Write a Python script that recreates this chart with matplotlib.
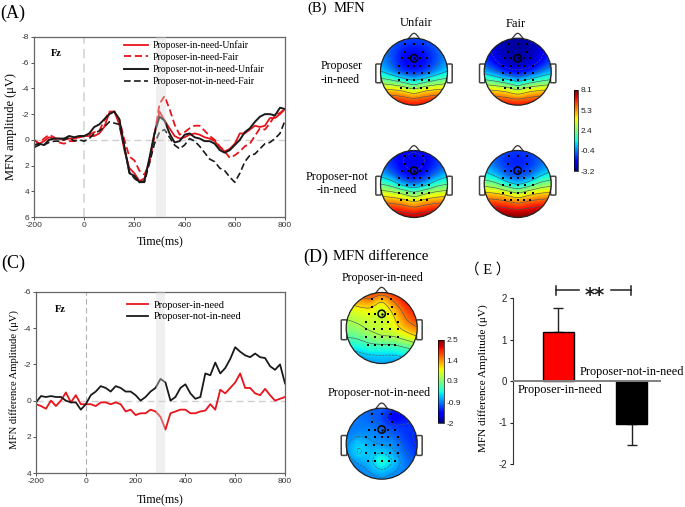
import numpy as np
import matplotlib
matplotlib.use('Agg')
import matplotlib.pyplot as plt
from matplotlib.cm import ScalarMappable
from matplotlib.colors import Normalize
from matplotlib.patches import Circle, FancyBboxPatch

plt.rcParams['axes.unicode_minus'] = False

W, H = 685, 507
SERIF = 'Liberation Serif'
SANS = 'Liberation Sans'

# time axis shared by the waveforms, every 20 ms
times = list(range(-200, 801, 20))

# panel A, amplitude in uV
in_need_unfair = [0.0, 0.3, 0.1, -0.2, -0.1, -0.1, 0.0, -0.1, -0.1, -0.2,
                  -0.3, -0.3, -0.3, -0.5, -1.0, -2.1, -2.2, -1.2, 0.8, 2.2,
                  2.6, 3.2, 3.0, 1.6, -0.5, -2.2, -1.5, -0.9, -0.3, -0.1,
                  -0.2, -0.4, -0.5, -0.4, -0.2, -0.1, 0.1, 0.6, 0.9, 0.7,
                  0.3, -0.5, -0.5, -0.8, -1.1, -1.0, -1.1, -1.7, -1.7, -2.0, -2.4]
in_need_fair = [0.0, 0.3, -0.1, -0.4, -0.2, 0.2, 0.3, 0.1, 0.1, -0.2,
                -0.3, -0.4, -0.6, -0.7, -1.5, -2.2, -2.2, -1.6, 0.0, 1.3,
                1.6, 2.4, 2.7, 1.8, -0.3, -2.8, -3.4, -2.4, -1.2, -0.4,
                -0.6, -0.9, -1.1, -1.1, -0.7, -0.3, 0.0, 0.5, 0.9, 1.4,
                1.2, 0.9, 0.5, 0.3, -0.3, -0.9, -0.8, -1.3, -1.9, -2.1, -2.4]
not_in_need_unfair = [0.4, 0.3, 0.4, 0.0, -0.1, -0.1, -0.1, -0.3, -0.2, -0.3,
                      -0.3, -0.5, -1.0, -1.2, -1.6, -2.0, -2.2, -1.6, 0.5, 2.6,
                      2.8, 3.3, 3.2, 1.4, -0.5, -1.8, -1.5, -0.5, 0.2, 0.1,
                      -0.4, -0.5, -0.2, -0.1, 0.1, 0.1, 0.3, 0.8, 1.0, 0.8,
                      0.4, 0.0, -0.6, -0.9, -1.4, -1.8, -2.0, -2.0, -1.9, -2.5, -2.4]
not_in_need_fair = [0.6, 0.4, 0.4, 0.2, 0.1, 0.1, 0.0, -0.2, 0.1, 0.0,
                    0.1, -0.1, -0.5, -0.7, -1.0, -1.4, -1.3, -1.2, 0.6, 2.5,
                    3.0, 3.3, 3.3, 1.8, 0.3, -0.6, -0.8, -0.2, 0.4, 0.7,
                    0.4, -0.1, 0.1, 0.5, 1.0, 1.5, 1.7, 2.2, 2.4, 2.9,
                    3.3, 2.6, 1.7, 1.2, 1.1, 0.7, 0.3, 0.2, -0.1, -0.5, -1.5]

# panel C, difference amplitude in uV
diff_in_need = [0.2, 0.3, 0.45, 0.0, 0.3, 0.0, -0.45, 0.1, -0.3, 0.2,
                0.2, 0.2, 0.3, 0.1, 0.1, 0.2, 0.1, 0.2, 0.6, 0.5,
                0.8, 0.7, 0.7, 0.5, 0.6, 0.9, 1.6, 0.7, 0.6, 0.5,
                0.5, 0.7, 0.7, 0.6, 0.55, 0.2, 0.5, -0.6, -0.4, -0.7,
                -1.0, -1.5, -0.7, -0.7, -0.4, -0.3, -0.65, -0.3, 0.0, -0.1, -0.2]
diff_not_in_need = [0.1, -0.25, -0.2, -0.25, -0.2, -0.2, 0.0, 0.1, 0.1, 0.5,
                    0.2, -0.3, -0.5, -0.8, -0.7, -0.5, -0.8, -0.7, -0.5, -0.5,
                    -0.3, 0.0, -0.2, -0.5, -0.7, -1.2, -1.0, 0.0, -0.2, -0.7,
                    -0.9, -0.4, -0.1, -0.2, -1.5, -1.4, -2.1, -1.5, -1.8, -2.3,
                    -2.95, -2.7, -2.5, -2.4, -2.6, -2.4, -2.35, -1.9, -1.7, -2.0, -0.95]

# panel E
bar_labels = ['Proposer-in-need', 'Proposer-not-in-need']
bar_values = [1.18, -1.03]
bar_errors = [0.59, 0.52]

# scalp maps: rows run front to back, columns left to right
map_unfair_in_need = [[-0.3, -0.7, -0.9, -1.0, -0.9, -0.7, -0.3],
                      [-0.3, -0.8, -1.3, -1.5, -1.3, -0.8, -0.3],
                      [-0.2, -0.9, -1.7, -1.9, -1.7, -1.0, -0.2],
                      [0.0, -0.8, -1.7, -2.0, -1.7, -0.9, 0.0],
                      [0.6, -0.2, -1.2, -1.5, -1.2, -0.2, 0.6],
                      [2.2, 1.8, 1.1, 0.3, 1.1, 1.8, 2.2],
                      [4.3, 4.1, 3.8, 2.8, 3.8, 4.1, 4.3],
                      [6.1, 6.0, 5.7, 5.2, 5.7, 6.0, 6.1],
                      [7.4, 7.4, 7.2, 7.0, 7.2, 7.4, 7.4]]
map_fair_in_need = [[-1.9, -2.4, -2.7, -2.8, -2.7, -2.4, -1.9],
                    [-1.7, -2.4, -2.8, -2.9, -2.8, -2.4, -1.7],
                    [-1.3, -2.2, -2.7, -2.8, -2.7, -2.2, -1.3],
                    [-0.9, -1.8, -2.5, -2.6, -2.5, -1.8, -0.9],
                    [0.2, -0.6, -1.6, -1.9, -1.6, -0.6, 0.2],
                    [1.9, 1.5, 0.8, 0.0, 0.8, 1.5, 1.9],
                    [4.1, 3.9, 3.6, 2.6, 3.6, 3.9, 4.1],
                    [6.0, 5.8, 5.5, 5.0, 5.5, 5.8, 6.0],
                    [7.3, 7.3, 7.1, 7.0, 7.1, 7.3, 7.3]]
map_unfair_not_in_need = [[-0.8, -1.3, -1.7, -1.9, -1.7, -1.3, -0.8],
                          [-0.7, -1.4, -2.0, -2.2, -2.0, -1.4, -0.7],
                          [-0.4, -1.2, -1.9, -2.1, -1.9, -1.2, -0.4],
                          [0.4, -0.4, -1.5, -1.9, -1.5, -0.4, 0.4],
                          [1.8, 1.3, 0.0, -0.7, 0.0, 1.3, 1.8],
                          [3.5, 3.3, 2.7, 1.8, 2.7, 3.3, 3.5],
                          [5.3, 5.1, 4.8, 4.0, 4.8, 5.1, 5.3],
                          [6.8, 6.7, 6.4, 6.0, 6.4, 6.7, 6.8],
                          [7.8, 7.8, 7.7, 7.6, 7.7, 7.8, 7.8]]
map_fair_not_in_need = [[-0.3, -0.7, -1.0, -1.1, -1.0, -0.7, -0.3],
                        [-0.2, -0.8, -1.3, -1.5, -1.3, -0.8, -0.2],
                        [0.2, -0.5, -1.2, -1.4, -1.2, -0.5, 0.2],
                        [1.1, 0.4, -0.7, -1.1, -0.7, 0.4, 1.1],
                        [2.6, 2.2, 1.0, 0.2, 1.0, 2.2, 2.6],
                        [4.4, 4.2, 3.7, 2.8, 3.7, 4.2, 4.4],
                        [6.0, 5.9, 5.6, 5.0, 5.6, 5.9, 6.0],
                        [7.3, 7.3, 7.1, 6.8, 7.1, 7.3, 7.3],
                        [8.1, 8.1, 8.1, 8.1, 8.1, 8.1, 8.1]]
map_diff_in_need = [[1.3, 1.6, 1.9, 1.7, 1.9, 2.1, 2.3],
                    [1.0, 1.3, 1.4, 0.9, 1.5, 2.0, 2.2],
                    [0.7, 0.8, 0.9, 0.6, 1.1, 1.7, 2.0],
                    [0.5, 0.6, 0.7, 0.6, 0.9, 1.5, 1.8],
                    [0.3, 0.4, 0.6, 0.7, 0.8, 1.2, 1.5],
                    [0.0, 0.1, 0.3, 0.5, 0.5, 0.7, 1.0],
                    [-0.3, -0.3, -0.1, -0.1, -0.1, 0.1, 0.3],
                    [-0.7, -0.6, -0.5, -0.5, -0.5, -0.4, -0.3],
                    [-0.9, -0.9, -0.8, -0.7, -0.8, -0.8, -0.8]]
map_diff_not_in_need = [[-0.9, -0.9, -1.0, -1.0, -1.2, -1.3, -1.2],
                        [-0.9, -0.9, -1.0, -1.1, -1.6, -1.4, -1.2],
                        [-0.9, -0.9, -0.9, -1.0, -1.2, -1.2, -1.2],
                        [-0.9, -0.8, -0.8, -0.9, -1.0, -1.2, -1.3],
                        [-0.8, -0.5, -0.7, -0.8, -0.8, -1.1, -1.3],
                        [-0.8, -0.4, -0.6, -0.5, -0.7, -1.0, -1.2],
                        [-0.9, -0.7, -0.6, -0.1, -0.5, -0.9, -1.1],
                        [-0.9, -0.9, -0.7, -0.5, -0.7, -0.9, -1.0],
                        [-0.9, -0.9, -0.9, -0.8, -0.9, -0.9, -0.9]]

# electrode sites on the unit head
electrode_x = [-0.27, 0, 0.27, -0.28, 0.28,
               -0.37, -0.19, 0.19, 0.38, -0.44, -0.19, 0, 0.19, 0.45,
               -0.45, -0.22, 0, 0.23, 0.46, -0.44, -0.2, 0, 0.23, 0.46,
               -0.38, -0.2, 0, 0.2, 0.38]
electrode_y = [0.83, 0.83, 0.83, 0.6, 0.6,
               0.4, 0.4, 0.4, 0.4, 0.18, 0.18, 0.18, 0.18, 0.18,
               -0.03, -0.03, -0.03, -0.03, -0.03, -0.26, -0.26, -0.26, -0.26, -0.26,
               -0.48, -0.48, -0.48, -0.48, -0.48]

colorbar_b_ticks = [-3.2, -0.4, 2.4, 5.3, 8.1]
colorbar_d_ticks = [-2, -0.9, 0.3, 1.4, 2.5]

fig = plt.figure(figsize=(W / 100, H / 100), dpi=100)


def axes_px(x0, y0, x1, y1):
    return fig.add_axes([x0 / W, 1 - y1 / H, (x1 - x0) / W, (y1 - y0) / H])


def text_px(x, y, s, size=9, family=SERIF, ha='center', va='center', **kw):
    fig.text(x / W, 1 - y / H, s, fontsize=size, family=family, ha=ha, va=va, **kw)


def setup_wave_axes(ax, ylim, yticks, vline_width, vline_color):
    ax.set_xlim(-200, 800)
    ax.set_ylim(*ylim)
    ax.set_xticks([-200, 0, 200, 400, 600, 800])
    ax.set_yticks(yticks)
    ax.tick_params(labelsize=6, length=2, width=0.6, pad=1.5, colors='#333333')
    for label in ax.get_xticklabels() + ax.get_yticklabels():
        label.set_family(SANS)
    for spine in ax.spines.values():
        spine.set_color('#666666')
        spine.set_linewidth(0.9)
    ax.axhline(0, color='#d0d0d0', lw=1.0, ls=(0, (5, 3)), zorder=1)
    ax.axvline(0, color=vline_color, lw=vline_width, ls=(0, (5, 3)), zorder=1)


def upsample(grid, n=161):
    grid = np.array(grid, dtype=float)
    rows = np.linspace(0, grid.shape[0] - 1, n)
    cols = np.linspace(0, grid.shape[1] - 1, n)
    tall = np.array([np.interp(rows, np.arange(grid.shape[0]), grid[:, j])
                     for j in range(grid.shape[1])]).T
    fine = np.array([np.interp(cols, np.arange(grid.shape[1]), tall[i])
                     for i in range(n)])
    # box blur to take the corners off the bilinear grid
    size = 15
    kernel = np.ones(size) / size
    for _ in range(2):
        padded = np.pad(fine, size, mode='edge')
        padded = np.apply_along_axis(lambda v: np.convolve(v, kernel, mode='same'), 0, padded)
        padded = np.apply_along_axis(lambda v: np.convolve(v, kernel, mode='same'), 1, padded)
        fine = padded[size:-size, size:-size]
    return fine


def draw_head(cx, cy, r, grid, vmin, vmax, n_levels=8):
    pad = 1.35
    ax = axes_px(cx - pad * r, cy - pad * r, cx + pad * r, cy + pad * r)
    ax.set_xlim(-pad, pad)
    ax.set_ylim(-pad, pad)
    ax.axis('off')

    # ears and nose sit behind the scalp
    for side in (-1, 1):
        ax.add_patch(FancyBboxPatch((side * 1.06 - 0.05, -0.3), 0.1, 0.5,
                                    boxstyle='round,pad=0.03', fc='white', ec='#444444', lw=1.1))
    nose_x = np.array([-0.17, -0.06, 0.0, 0.06, 0.17])
    nose_y = np.array([0.985, 1.12, 1.15, 1.12, 0.985])
    ax.plot(nose_x, nose_y, color='#333333', lw=0.9)

    fine = upsample(grid)
    xs = np.linspace(-1, 1, fine.shape[1])
    ys = np.linspace(1, -1, fine.shape[0])
    clip = Circle((0, 0), 1, transform=ax.transData)
    im = ax.imshow(fine, extent=(-1, 1, -1, 1), cmap='jet', vmin=vmin, vmax=vmax,
                   interpolation='bilinear', zorder=2)
    im.set_clip_path(clip)
    levels = np.linspace(vmin, vmax, n_levels + 2)[1:-1]
    cs = ax.contour(xs, ys, fine, levels=levels, colors='#4a5a5a', linewidths=0.45, zorder=3)
    cs.set_clip_path(clip)
    ax.set_xlim(-pad, pad)
    ax.set_ylim(-pad, pad)

    ax.add_patch(Circle((0, 0), 1, fc='none', ec='#222222', lw=0.9, zorder=4))
    ax.scatter(electrode_x, electrode_y, s=1.6, c='black', marker='s', linewidths=0, zorder=5)
    # Fz marker
    ax.scatter([0], [0.4], s=28, facecolors='none', edgecolors='black', linewidths=1.1, zorder=6)
    ax.scatter([0], [0.4], s=3, c='black', linewidths=0, zorder=6)


def draw_colorbar(x0, y0, x1, y1, ticks):
    cax = axes_px(x0, y0, x1, y1)
    sm = ScalarMappable(norm=Normalize(ticks[0], ticks[-1]), cmap='jet')
    cb = fig.colorbar(sm, cax=cax, ticks=ticks)
    cb.ax.set_yticklabels([str(t) for t in ticks], family=SANS, fontsize=6, color='#222222')
    cb.ax.tick_params(length=0, pad=2)
    cb.outline.set_linewidth(0.5)


# ---- panel A ----
ax_a = axes_px(34, 37, 285, 217)
setup_wave_axes(ax_a, (6, -8), [-8, -6, -4, -2, 0, 2, 4, 6], 1.3, '#d8d8d8')
ax_a.plot(times, in_need_unfair, color='#e8141c', lw=1.3, label='Proposer-in-need-Unfair')
ax_a.plot(times, in_need_fair, color='#e8141c', lw=1.3, ls=(0, (4, 2)), label='Proposer-in-need-Fair')
ax_a.plot(times, not_in_need_unfair, color='#1a1a1a', lw=1.4, label='Proposer-not-in-need-Unfair')
ax_a.plot(times, not_in_need_fair, color='#1a1a1a', lw=1.2, ls=(0, (4, 2)), label='Proposer-not-in-need-Fair')
ax_a.axvspan(286, 325, color='#d8d8d8', alpha=0.38, lw=0, zorder=5)
ax_a.legend(loc='upper left', bbox_to_anchor=((121 - 34) / 251, 1.0), frameon=False, ncol=1,
            prop={'family': SERIF, 'size': 7}, handlelength=2.4, handletextpad=0.5,
            labelspacing=0.28, borderpad=0.35, borderaxespad=0)

# ---- panel C ----
ax_c = axes_px(36, 292, 285, 473)
setup_wave_axes(ax_c, (4, -6), [-6, -4, -2, 0, 2, 4], 0.8, '#b0b0b0')
ax_c.plot(times, diff_in_need, color='#e8141c', lw=1.3, label='Proposer-in-need')
ax_c.plot(times, diff_not_in_need, color='#1a1a1a', lw=1.3, label='Proposer-not-in-need')
ax_c.axvspan(280, 320, color='#d8d8d8', alpha=0.38, lw=0, zorder=5)
ax_c.legend(loc='upper left', bbox_to_anchor=((124 - 36) / 249, 0.97), frameon=False,
            prop={'family': SERIF, 'size': 7.5}, handlelength=2.0, handletextpad=0.55,
            labelspacing=0.22, borderpad=0.3, borderaxespad=0)

# ---- panels B and D ----
draw_head(414, 71.7, 33.5, map_unfair_in_need, -3.2, 8.1)
draw_head(517.7, 71.7, 33.5, map_fair_in_need, -3.2, 8.1)
draw_head(414, 184, 33.5, map_unfair_not_in_need, -3.2, 8.1)
draw_head(517.7, 184, 33.5, map_fair_not_in_need, -3.2, 8.1)
draw_colorbar(574, 90, 578, 171, colorbar_b_ticks)

draw_head(381.7, 328, 35.5, map_diff_in_need, -2, 2.5)
draw_head(381.7, 443.7, 35.5, map_diff_not_in_need, -2, 2.5, n_levels=17)
draw_colorbar(438, 340, 444, 423, colorbar_d_ticks)

# ---- panel E ----
ax_e = axes_px(513, 298, 661, 464)
ax_e.set_xlim(-0.623, 1.404)
ax_e.set_ylim(-2, 2)
ax_e.bar([0, 1], bar_values, width=0.42, color=['#ff0000', '#000000'], edgecolor='black', linewidth=1, zorder=2)
ax_e.errorbar([0], [bar_values[0]], yerr=[[0], [bar_errors[0]]], color='#222222', capsize=3.5, lw=1, capthick=1, zorder=1)
ax_e.errorbar([1], [bar_values[1]], yerr=[[bar_errors[1]], [0]], color='#222222', capsize=3.5, lw=1, capthick=1, zorder=1)
ax_e.axhline(0, color='#808080', lw=1.4, zorder=3)
ax_e.set_yticks([-2, -1, 0, 1, 2])
ax_e.set_xticks([])
ax_e.tick_params(labelsize=7, length=2.5, width=0.8, pad=2, colors='#222222')
for label in ax_e.get_yticklabels():
    label.set_family(SANS)
for name in ('top', 'right', 'bottom'):
    ax_e.spines[name].set_visible(False)
ax_e.spines['left'].set_color('#333333')
ax_e.patch.set_alpha(0)

# significance bracket
ax_e.plot([-0.035, 0.285], [2.19, 2.19], color='#222222', lw=1.1, clip_on=False)
ax_e.plot([0.72, 0.995], [2.19, 2.19], color='#222222', lw=1.1, clip_on=False)
ax_e.plot([-0.035, -0.035], [2.08, 2.30], color='#222222', lw=1.1, clip_on=False)
ax_e.plot([0.995, 0.995], [2.08, 2.30], color='#222222', lw=1.1, clip_on=False)
text_px(595, 295, '**', size=14, family='DejaVu Sans', weight='bold', color='#222222')
text_px(560.5, 390, bar_labels[0], size=8.8)
text_px(632, 372, bar_labels[1], size=8.8)

# ---- text ----
text_px(13, 13, '(A)', size=13)
text_px(56, 53, 'Fz', size=7.5, weight='bold')
text_px(160, 242, 'Time(ms)', size=8.6)
text_px(11, 127, 'MFN amplitude (μV)', size=9, rotation=90)
text_px(13, 263, '(C)', size=13)
text_px(60, 309, 'Fz', size=7.5, weight='bold')
text_px(160, 500, 'Time(ms)', size=8.6)
text_px(14, 380, 'MFN difference Amplitude (μV)', size=7.7, rotation=90)

text_px(307, 8, '(B)', size=10.5, ha='left')
text_px(334, 9, 'MFN', size=10.5, ha='left')
text_px(416, 23, 'Unfair', size=9)
text_px(516, 24, 'Fair', size=9)
text_px(342, 66, 'Proposer', size=8.5)
text_px(340, 80, '-in-need', size=8.5)
text_px(337, 177, 'Proposer-not', size=8.7)
text_px(337, 190, '-in-need', size=8.7)

text_px(303, 257, '(D)', size=13, ha='left')
text_px(333, 257, 'MFN difference', size=10.6, ha='left')
text_px(383, 278, 'Proposer-in-need', size=8.6)
text_px(379, 393, 'Proposer-not-in-need', size=8.7)
text_px(488, 270, '（ E ）', size=10.5, family=[SERIF, 'Noto Sans CJK SC'])
text_px(483, 378, 'MFN difference Amplitude (μV)', size=8.1, rotation=90)

fig.savefig('out.png', dpi=100)
